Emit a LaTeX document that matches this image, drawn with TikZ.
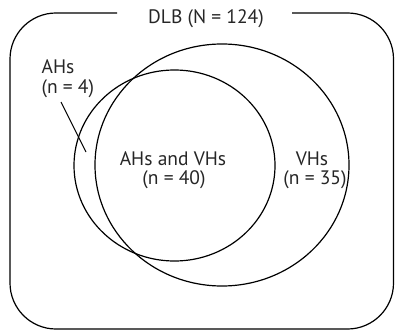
\documentclass[tikz,border=0pt]{standalone}
\usepackage{fontspec}
\setmainfont{PT Sans}
\usepackage{tikz}
\usetikzlibrary{calc}

\begin{document}
\begin{tikzpicture}[x=1pt,y=-1pt,line width=1.2pt,
  lbl/.style={font=\fontsize{19.5}{23}\selectfont,inner sep=0pt,text=black!85}]
\useasboundingbox (0,0) rectangle (395,331);
\begin{scope}
  \draw[rounded corners=46] (292,13) -- (393.5,13) -- (393.5,329) -- (10,329)
  -- (10,13) -- (117,13);
  \node[lbl,anchor=base] (dlb) at (206,23.3) {DLB (N = 124)};
  \draw (222,165) ellipse [x radius=127,y radius=121];
  \draw (174.5,165.5) ellipse [x radius=100.5,y radius=95.5];
  \node[lbl,anchor=base west] (ahs) at (41,74) {AHs};
  \node[lbl,anchor=base west] (ahsn) at (41,93.5) {(n = 4)};
  \coordinate (ahsa) at (61,102); \coordinate (ahsb) at (86,152);
  \draw[line width=1pt] (ahsa) -- (ahsb);
  \node[lbl,anchor=base] (both) at (173,165) {AHs and VHs};
  \node[lbl,anchor=base] (bothn) at (174,184.3) {(n = 40)};
  \node[lbl,anchor=base] (vhs) at (312,165) {VHs};
  \node[lbl,anchor=base] (vhsn) at (315,184.3) {(n = 35)};
\end{scope}
\end{tikzpicture}
\end{document}
